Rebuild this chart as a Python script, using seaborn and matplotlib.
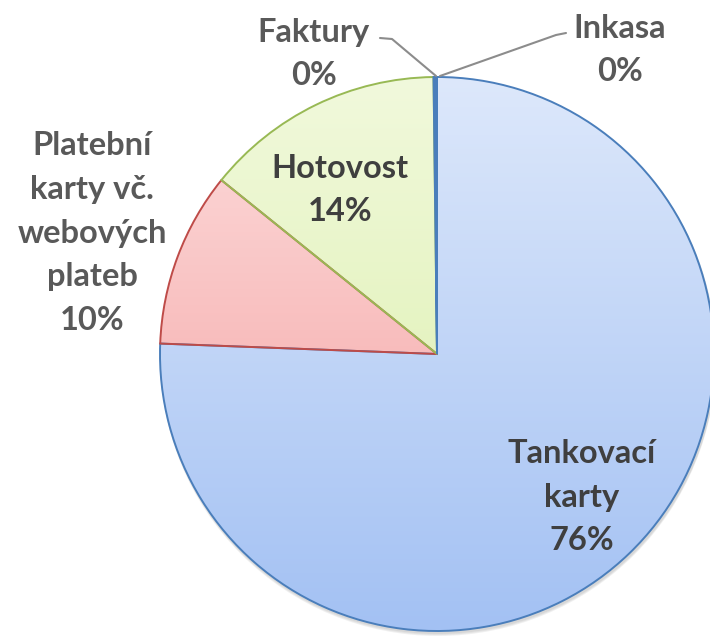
import numpy as np
import matplotlib
matplotlib.use('Agg')
from matplotlib import pyplot as plt
from matplotlib.colors import LinearSegmentedColormap
import seaborn as sns


LABELS = ['Tankovací\nkarty', 'Platební\nkarty vč.\nwebových\nplateb', 'Hotovost', 'Faktury', 'Inkasa']
SHARES = [75.6, 10.2, 14.0, 0.1, 0.1]
PCT_TEXT = ['76%', '10%', '14%', '0%', '0%']

TOP_COLORS = ['#dde8fb', '#fcdede', '#f1f9dc', '#dde8fb', '#dde8fb']
BOTTOM_COLORS = ['#a3c1f3', '#f59a9a', '#d9eea6', '#a3c1f3', '#a3c1f3']
EDGE_COLORS = ['#4a7ebb', '#be4b48', '#98b954', '#4a7ebb', '#4a7ebb']


def plot_pie(fig_name):
    sns.set_theme(style='white')
    plt.rcParams['font.family'] = ['Lato', 'DejaVu Sans']
    plt.rcParams['font.weight'] = 'bold'

    fig = plt.figure(figsize=(7.1, 6.36), dpi=100)
    ax = fig.add_axes([0, 0, 1, 1])
    H = 636
    cx, cy, r = 437, H - 354, 277

    # soft shadow under the pie
    for k, a in enumerate([0.05, 0.05, 0.06]):
        sh = plt.Circle((cx + 1, cy - 2 - k), r + 1, color='black', alpha=a, lw=0, zorder=0)
        ax.add_patch(sh)

    wedges, _ = ax.pie(SHARES, startangle=90, counterclock=False, center=(cx, cy), radius=r,
                       colors=TOP_COLORS, wedgeprops=dict(linewidth=1.4))
    grad = np.linspace(0, 1, 256).reshape(-1, 1)
    for w, top, bot, edge in zip(wedges, TOP_COLORS, BOTTOM_COLORS, EDGE_COLORS):
        cmap = LinearSegmentedColormap.from_list('g', [top, bot])
        im = ax.imshow(grad, cmap=cmap, extent=[cx - r, cx + r, cy - r, cy + r],
                       origin='upper', aspect='auto', zorder=1)
        im.set_clip_path(w)
        w.set_facecolor('none')
        w.set_edgecolor(edge)
        w.set_zorder(2)

    inside = '#3f3f3f'
    outside = '#595959'
    fs = 23.5
    ls = 1.62
    label_pos = [(582, 497), (92, 233), (340, 190), (314, 54), (620, 50)]
    for i, (lab, pct) in enumerate(zip(LABELS, PCT_TEXT)):
        x, y = label_pos[i]
        col = inside if i in (0, 2) else outside
        ax.text(x, H - y, lab + '\n' + pct, ha='center', va='center', fontsize=fs,
                color=col, linespacing=ls, zorder=4)

    # leader lines for the tiny slices
    ax.plot([380, 392, 436], [H - 38, H - 39, H - 76], color='#8c8c8c', lw=1.5, zorder=3)
    ax.plot([566, 556, 440], [H - 33, H - 35, H - 76], color='#8c8c8c', lw=1.5, zorder=3)

    ax.set_xlim(0, 710)
    ax.set_ylim(0, H)
    ax.set_aspect('auto')
    ax.axis('off')
    fig.savefig(fig_name, dpi=100)


if __name__ == '__main__':
    plot_pie('out.png')
